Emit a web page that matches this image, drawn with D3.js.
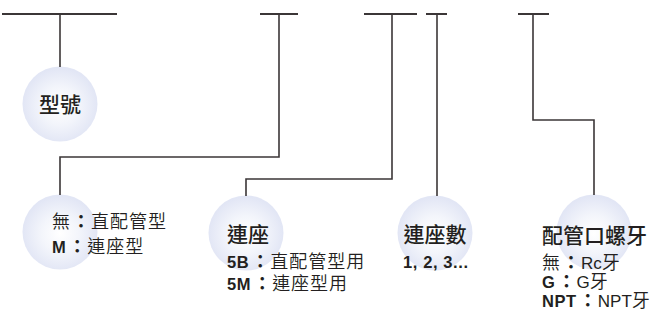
<!DOCTYPE html>
<html>
<head>
<meta charset="utf-8">
<script src="https://cdn.jsdelivr.net/npm/d3@7"></script>
<style>
  body { margin: 0; background: #fff; }
  svg { display: block; }
</style>
</head>
<body>
<div id="diagram"></div>
<script>
// code fields of the model number, left to right
var titles = ['型號', '', '連座', '連座數', '配管口螺牙'];
var optionLabels = [
  [],
  ['無', 'M'],
  ['5B', '5M'],
  ['1, 2, 3...'],
  ['無', 'G', 'NPT']
];
var optionValues = [
  [],
  ['直配管型', '連座型'],
  ['直配管型用', '連座型用'],
  [''],
  ['Rc牙', 'G牙', 'NPT牙']
];

var width = 656, height = 311;
var ink = '#3b3637', textColor = '#231f20';
var cjk = '"Noto Sans CJK TC", "Noto Sans CJK SC", sans-serif';
var cjkLight = '"Noto Sans CJK TC DemiLight", "Noto Sans CJK TC Light", "Noto Sans CJK TC", sans-serif';
var latin = '"Liberation Sans", Arial, sans-serif';

var svg = d3.select('#diagram').append('svg')
  .attr('width', width)
  .attr('height', height);

var defs = svg.append('defs');
var grad = defs.append('radialGradient')
  .attr('id', 'ball')
  .attr('cx', '50%').attr('cy', '52%').attr('r', '50%');
grad.append('stop').attr('offset', '0%').attr('stop-color', '#ffffff');
grad.append('stop').attr('offset', '50%').attr('stop-color', '#f3f5fb');
grad.append('stop').attr('offset', '100%').attr('stop-color', '#e2e6f5');

// layout: top bar span, stem x, bubble centre
var bars = [[2, 117], [260, 298], [364, 417], [426, 447], [518, 549]];
var stems = [60, 279, 392, 437, 533];
var bubbles = [[60, 104], [60, 232], [246, 233], [435, 233], [594, 232]];
var elbowY = [null, 157, 179, null, 120];
var r = 37.5, topY = 14;

// bubbles first so lines sit on top
svg.selectAll('circle.ball')
  .data(bubbles)
  .enter().append('circle')
  .attr('class', 'ball')
  .attr('cx', function (d) { return d[0]; })
  .attr('cy', function (d) { return d[1]; })
  .attr('r', r)
  .attr('fill', 'url(#ball)');

// top bars
svg.selectAll('line.bar')
  .data(bars)
  .enter().append('line')
  .attr('class', 'bar')
  .attr('x1', function (d) { return d[0]; })
  .attr('x2', function (d) { return d[1]; })
  .attr('y1', topY).attr('y2', topY)
  .attr('stroke', ink)
  .attr('stroke-width', 2);

// connectors from bar to bubble top
var line = d3.line();
svg.selectAll('path.link')
  .data(stems)
  .enter().append('path')
  .attr('class', 'link')
  .attr('fill', 'none')
  .attr('stroke', ink)
  .attr('stroke-width', 1.6)
  .attr('d', function (sx, i) {
    var b = bubbles[i];
    var by = b[1] - r + 0.5;
    if (elbowY[i] == null) return line([[sx, topY], [sx, by]]);
    return line([[sx, topY], [sx, elbowY[i]], [b[0], elbowY[i]], [b[0], by]]);
  });

// titles
var titlePos = [[60, 112, 'middle'], null, [227, 242, 'start'], [435, 242, 'middle'], [542, 243, 'start']];
titles.forEach(function (t, i) {
  if (!t) return;
  var p = titlePos[i];
  svg.append('text')
    .attr('x', p[0]).attr('y', p[1])
    .attr('text-anchor', p[2])
    .attr('font-family', cjk)
    .attr('font-weight', 500)
    .attr('font-size', 21)
    .attr('fill', textColor)
    .text(t);
});

// option lines: bold code, colon, light description
var optPos = [null, [52, 228, 25], [227, 268, 22], [403, 268, 20], [542, 269, 19]];
optionLabels.forEach(function (labels, i) {
  labels.forEach(function (lab, j) {
    var p = optPos[i];
    var txt = svg.append('text')
      .attr('x', p[0])
      .attr('y', p[1] + j * p[2])
      .attr('fill', textColor);
    var isCjk = /[\u4e00-\u9fff]/.test(lab);
    txt.append('tspan')
      .attr('font-family', isCjk ? cjkLight : latin)
      .attr('font-weight', isCjk ? 300 : 700)
      .attr('font-size', isCjk ? 18 : 16.5)
      .attr('letter-spacing', isCjk ? 0 : 0.6)
      .text(lab);
    var v = optionValues[i][j];
    if (!v) return;
    txt.append('tspan')
      .attr('dx', 2)
      .attr('font-family', cjk)
      .attr('font-weight', 700)
      .attr('font-size', 18)
      .text('：');
    var m = v.match(/^([A-Za-z]*)(.*)$/);
    if (m[1]) {
      txt.append('tspan')
        .attr('dx', 1)
        .attr('font-family', latin)
        .attr('font-size', 17)
        .text(m[1]);
    }
    txt.append('tspan')
      .attr('dx', m[1] ? 0 : 1)
      .attr('font-family', cjkLight)
      .attr('font-weight', 300)
      .attr('font-size', 18)
      .attr('letter-spacing', 1)
      .text(m[2]);
  });
});
</script>
</body>
</html>
